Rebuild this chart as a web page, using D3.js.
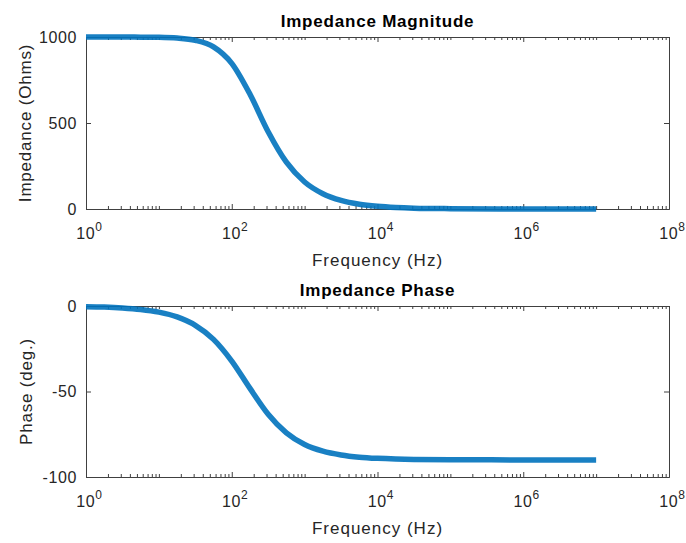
<!DOCTYPE html>
<html>
<head>
<meta charset="utf-8">
<script src="https://cdn.jsdelivr.net/npm/d3@7"></script>
<style>
  body { margin: 0; background: #fff; }
  text { font-family: "Liberation Sans", Arial, Helvetica, sans-serif; }
</style>
</head>
<body>
<svg id="chart" width="686" height="543"></svg>
<script>
// values (quarter-decade samples)
const freqHz = [1, 1.78, 3.16, 5.62, 10, 17.8, 31.6, 56.2, 100, 178, 316, 562,
                1000, 1780, 3160, 5620, 1e4, 1.78e4, 3.16e4, 1e5, 1e6, 1e7];
const magnitudeOhms = [1000, 1000, 1000, 999, 998, 994, 981, 943, 847, 667, 449, 272,
                       157, 89, 50, 28, 16, 9, 5, 2, 0, 0];
const phaseDeg = [-0.4, -0.6, -1.1, -2.0, -3.6, -6.4, -11.3, -19.5, -32.2, -48.2, -63.3, -74.2,
                  -81.0, -84.9, -87.1, -88.4, -89.1, -89.5, -89.7, -89.9, -90, -90];

const xTickExponents = [0, 2, 4, 6, 8];
const magTicks = [0, 500, 1000];
const phaseTicks = [-100, -50, 0];

const svg = d3.select('#chart');
const left = 86, right = 669;
const axisColor = '#404040';
const labelColor = '#262626';

const x = d3.scaleLog().domain([1, 1e8]).range([left, right]);

// minor ticks: 2..9 of each decade plus the odd decades
const minorTicks = [];
for (let d = 0; d < 8; d++) {
    for (let m = 1; m <= 9; m++) {
        if (m === 1 && d % 2 === 0) continue;
        minorTicks.push(m * Math.pow(10, d));
    }
}

function styleAxis(g) {
    g.selectAll('path.domain').attr('stroke', axisColor).attr('stroke-width', 1);
    g.selectAll('.tick line').attr('stroke', axisColor).attr('stroke-width', 1);
    g.selectAll('.tick text')
        .attr('fill', labelColor)
        .style('font-size', '16px')
        .style('font-family', '"Liberation Sans", Arial, sans-serif');
}

function drawPanel(top, bottom, yDomain, yTicks, values, title, ylabel, ylabelX) {
    const y = d3.scaleLinear().domain(yDomain).range([bottom, top]);
    const h = bottom - top;

    // bottom axis with 10^n labels
    const bx = svg.append('g').attr('transform', `translate(0,${bottom})`)
        .call(d3.axisBottom(x).tickValues(xTickExponents.map(e => Math.pow(10, e)))
            .tickSizeInner(-5).tickSizeOuter(0).tickFormat(''));
    styleAxis(bx);
    bx.selectAll('.tick').each(function (d, i) {
        const t = d3.select(this).append('text')
            .attr('y', 30)
            .attr('x', 3)
            .attr('text-anchor', 'middle')
            .attr('fill', labelColor)
            .style('font-size', '16px')
            .style('letter-spacing', '0.6px');
        t.append('tspan').text('10');
        t.append('tspan').attr('dy', -8).style('font-size', '12px').text(xTickExponents[i]);
    });
    const bm = svg.append('g').attr('transform', `translate(0,${bottom})`)
        .call(d3.axisBottom(x).tickValues(minorTicks).tickSizeInner(-3).tickSizeOuter(0).tickFormat(''));
    styleAxis(bm);

    // top axis
    const tx = svg.append('g').attr('transform', `translate(0,${top})`)
        .call(d3.axisTop(x).tickValues(xTickExponents.map(e => Math.pow(10, e)))
            .tickSizeInner(-5).tickSizeOuter(0).tickFormat(''));
    styleAxis(tx);
    const tm = svg.append('g').attr('transform', `translate(0,${top})`)
        .call(d3.axisTop(x).tickValues(minorTicks).tickSizeInner(-3).tickSizeOuter(0).tickFormat(''));
    styleAxis(tm);

    // left and right axes
    const ly = svg.append('g').attr('transform', `translate(${left},0)`)
        .call(d3.axisLeft(y).tickValues(yTicks).tickSizeInner(-5).tickSizeOuter(0)
            .tickPadding(9).tickFormat(d => String(d)));
    styleAxis(ly);
    ly.selectAll('.tick text').style('letter-spacing', '0.6px');
    const ry = svg.append('g').attr('transform', `translate(${right},0)`)
        .call(d3.axisRight(y).tickValues(yTicks).tickSizeInner(-5).tickSizeOuter(0).tickFormat(''));
    styleAxis(ry);

    // data curve
    const line = d3.line()
        .x((d, i) => x(freqHz[i]))
        .y(d => y(d))
        .curve(d3.curveMonotoneX);
    svg.append('path')
        .datum(values)
        .attr('fill', 'none')
        .attr('stroke', '#0072BD')
        .attr('stroke-width', 5.5)
        .attr('stroke-opacity', 0.9)
        .attr('d', line);

    // title
    svg.append('text')
        .attr('x', (left + right) / 2)
        .attr('y', top - 10)
        .attr('text-anchor', 'middle')
        .attr('fill', '#000')
        .style('font-size', '17px')
        .style('font-weight', 'bold')
        .style('letter-spacing', '0.8px')
        .text(title);

    // x label
    svg.append('text')
        .attr('x', (left + right) / 2)
        .attr('y', bottom + 57)
        .attr('text-anchor', 'middle')
        .attr('fill', labelColor)
        .style('font-size', '17px')
        .style('letter-spacing', '1px')
        .text('Frequency (Hz)');

    // y label
    svg.append('text')
        .attr('transform', `translate(${ylabelX},${top + h / 2}) rotate(-90)`)
        .attr('text-anchor', 'middle')
        .attr('fill', labelColor)
        .style('font-size', '17px')
        .style('letter-spacing', '0.8px')
        .text(ylabel);
}

drawPanel(37, 209, [0, 1000], magTicks, magnitudeOhms, 'Impedance Magnitude', 'Impedance (Ohms)', 31);
drawPanel(306, 477, [-100, 0], phaseTicks, phaseDeg, 'Impedance Phase', 'Phase (deg.)', 32);
</script>
</body>
</html>
